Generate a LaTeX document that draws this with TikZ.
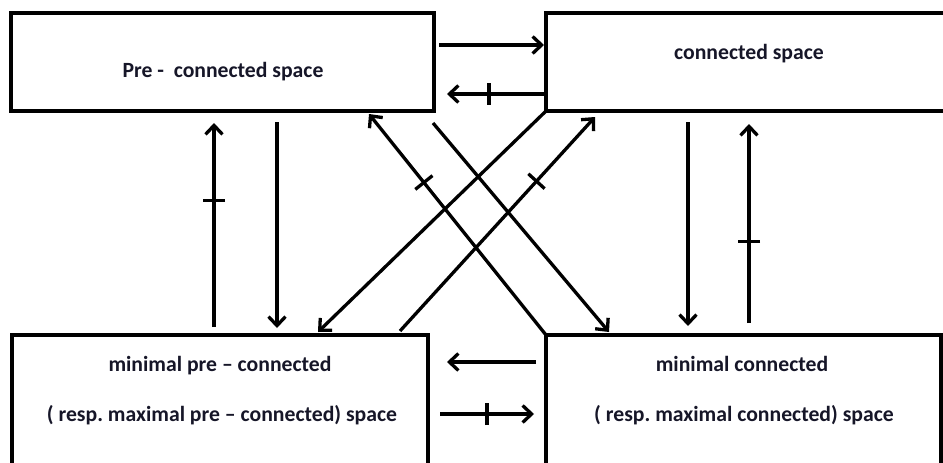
\documentclass[tikz,border=0pt]{standalone}
\usepackage{fontspec}
\setmainfont{Carlito}
\usetikzlibrary{arrows.meta,decorations.markings,calc}
\definecolor{txt}{RGB}{22,22,40}
\frenchspacing
\begin{document}
\begin{tikzpicture}[x=1pt,y=-1pt,
  box/.style={draw, line width=3.6pt, inner sep=0pt, outer sep=0pt},
  lbl/.style={font=\bfseries\fontsize{21.7}{26}\selectfont, text=txt, inner sep=0pt, anchor=base},
  arr/.style={line width=3.3pt, -{Straight Barb[length=9pt,width=17pt]}},
  crossbar/.style={postaction={decorate,decoration={markings,
      mark=at position #1 with {\draw[line width=3.3pt,-] (0pt,-11pt) -- (0pt,11pt);}}}}]
\useasboundingbox (0,0) rectangle (943,463);
\clip (0,0) rectangle (943,463);
% boxes
\node[box, minimum width=423pt, minimum height=98pt] (p) at (222.5,62) {};
\node[box, minimum width=454pt, minimum height=98pt] (c) at (773,62) {};
\node[box, minimum width=416pt, minimum height=185pt] (m) at (220,427.5) {};
\node[box, minimum width=395pt, minimum height=185pt] (n) at (743.5,427.5) {};
% texts
\node[lbl] (pt) at (223,77) {Pre -\ \ connected space};
\node[lbl] (ct) at (749,59) {connected space};
\node[lbl] (mt1) at (220,371.7) {minimal pre – connected};
\node[lbl] (mt2) at (222,421.7) {( resp. maximal pre – connected) space};
\node[lbl] (nt1) at (742,371.7) {minimal connected};
\node[lbl] (nt2) at (744,421.7) {( resp. maximal connected) space};
% horizontal arrows top
\draw[arr] ($(p.north east)+(5,32)$) -- ($(c.north west)+(-2,32)$);
\draw[arr,crossbar=0.567] ($(c.north west)+(-2,81)$) -- ($(p.north east)+(13,81)$);
% left verticals
\draw[arr,crossbar=0.62] ($(m.north west)+(202,-8)$) -- ($(p.south west)+(203,12)$);
\draw[arr] ($(p.south west)+(266,11)$) -- ($(m.north west)+(265,-7)$);
% right verticals
\draw[arr] ($(c.south west)+(142,11)$) -- ($(n.north west)+(142,-9)$);
\draw[arr,crossbar=0.41] ($(n.north west)+(203,-12)$) -- ($(c.south west)+(203,13)$);
% diagonals
\draw[arr,crossbar=0.69] (n.north west) -- ($(p.south west)+(358,3)$);
\draw[arr] ($(p.south east)+(-1,12)$) -- ($(n.north west)+(63,-3)$);
\draw[arr] (c.south west) -- ($(m.north west)+(306,-3)$);
\draw[arr,crossbar=0.70] ($(m.north west)+(388,-4)$) -- ($(c.south west)+(49,6)$);
% bottom horizontals
\draw[arr] ($(n.north west)+(-10,27)$) -- ($(m.north east)+(19,27)$);
\draw[arr,crossbar=0.5] ($(m.north east)+(12,79)$) -- ($(n.north west)+(-12,79)$);
\end{tikzpicture}
\end{document}
